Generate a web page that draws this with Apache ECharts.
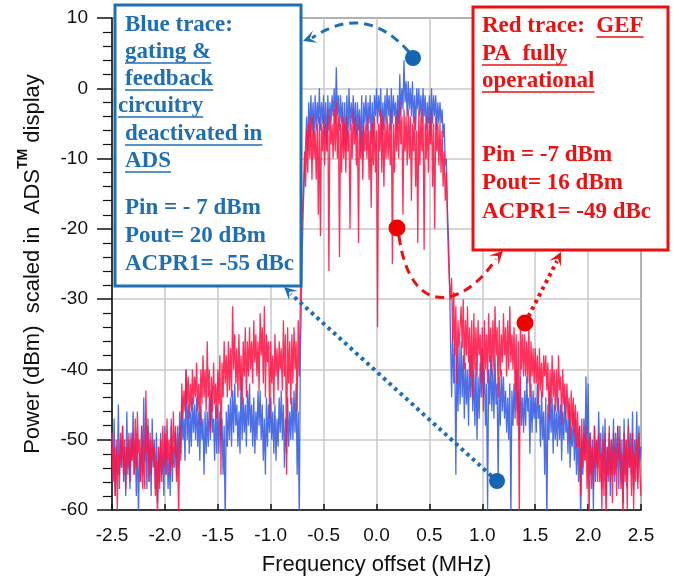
<!DOCTYPE html>
<html>
<head>
<meta charset="utf-8">
<script src="https://cdn.jsdelivr.net/npm/echarts@6/dist/echarts.min.js"></script>
<style>
html,body{margin:0;padding:0;background:#fff;}
#chart{width:679px;height:584px;}
</style>
</head>
<body>
<div id="chart"></div>
<script>
// ---- data ----
const FREQ_START = -2.5;   // MHz, first sample
const FREQ_STEP = 0.01;    // MHz between samples

// Blue trace: gating & feedback circuitry deactivated (dBm), one row per 0.1 MHz
const BLUE_TRACE = [
  -49,-56,-47,-58,-51,-55,-45,-57,-50,-54,   // -2.50
  -48,-56,-51,-58,-46,-55,-50,-57,-49,-53,   // -2.40
  -46,-55,-50,-58,-49,-61,-52,-56,-48,-55,   // -2.30
  -44,-53,-48,-57,-47,-56,-50,-58,-47,-54,   // -2.20
  -50,-57,-49,-59,-51,-56,-49,-55,-52,-58,   // -2.10
  -48,-55,-50,-57,-52,-58,-47,-56,-51,-54,   // -2.00
  -49,-55,-48,-54,-46,-52,-44,-50,-47,-53,   // -1.90
  -40,-50,-45,-52,-46,-51,-44,-49,-45,-50,   // -1.80
  -44,-51,-46,-53,-45,-50,-47,-55,-46,-52,   // -1.70
  -46,-51,-44,-50,-43,-49,-47,-53,-45,-52,   // -1.60
  -45,-52,-46,-50,-47,-55,-48,-62,-46,-51,   // -1.50
  -45,-50,-44,-51,-43,-49,-42,-48,-45,-51,   // -1.40
  -46,-52,-41,-50,-44,-49,-45,-51,-43,-48,   // -1.30
  -42,-49,-45,-51,-44,-52,-46,-50,-43,-48,   // -1.20
  -43,-50,-45,-53,-47,-55,-44,-51,-45,-49,   // -1.10
  -44,-50,-46,-52,-45,-53,-47,-51,-44,-49,   // -1.00
  -43,-50,-45,-54,-47,-52,-44,-51,-46,-50,   // -0.90
  -44,-50,-43,-49,-42,-55,-46,-62,-38,-30,   // -0.80
  -22,-16,-12,-8,-4,-9,-2,-7,-1,-6,          // -0.70
  -2,-7,-1,-6,-2,-5,0,-6,-2,-5,              // -0.60
  -1,-7,-2,-8,-1,-6,-2,-5,-1,-4,             // -0.50
  0,-5,3,-4,-1,-6,-1,-5,-2,-8,               // -0.40
  -2,-9,-1,-7,0,-6,-2,-5,-1,-6,              // -0.30
  -2,-7,-2,-6,-3,-9,-1,-10,-2,-5,            // -0.20
  -1,-6,-2,-5,-1,-8,-2,-7,-1,-4,             // -0.10
  0,-5,-1,-4,0,-7,-2,-6,-1,-5,               // 0.00
  0,-4,-1,-6,0,-5,-1,-4,-2,-6,               // 0.10
  -1,-5,2,-4,0,-3,4,-2,1,-4,                 // 0.20
  1,-3,0,-4,1,-5,-1,-6,0,-3,                 // 0.30
  0,-4,-1,-5,0,-4,-1,-6,-2,-5,               // 0.40
  -1,-7,0,-5,-1,-4,-1,-6,-2,-5,              // 0.50
  -2,-5,-3,-7,-5,-11,-10,-17,-21,-27,        // 0.60
  -36,-44,-34,-42,-37,-55,-38,-46,-37,-45,   // 0.70
  -36,-44,-38,-47,-39,-45,-40,-48,-38,-44,   // 0.80
  -38,-46,-40,-48,-39,-50,-41,-47,-39,-44,   // 0.90
  -37,-44,-40,-48,-42,-60,-40,-45,-38,-46,   // 1.00
  -40,-47,-38,-45,-42,-56,-41,-48,-40,-46,   // 1.10
  -41,-47,-43,-49,-44,-50,-42,-61,-43,-48,   // 1.20
  -42,-47,-40,-46,-43,-50,-41,-48,-44,-49,   // 1.30
  -43,-48,-41,-46,-44,-52,-42,-49,-43,-47,   // 1.40
  -44,-49,-42,-47,-45,-51,-43,-50,-46,-55,   // 1.50
  -44,-62,-45,-50,-43,-49,-44,-52,-45,-50,   // 1.60
  -46,-51,-44,-50,-45,-53,-46,-50,-44,-49,   // 1.70
  -47,-52,-45,-54,-48,-51,-46,-53,-47,-55,   // 1.80
  -49,-56,-48,-62,-50,-55,-47,-53,-41,-52,   // 1.90
  -42,-55,-49,-57,-50,-60,-48,-56,-50,-54,   // 2.00
  -46,-53,-49,-57,-48,-55,-47,-58,-51,-56,   // 2.10
  -49,-58,-50,-55,-47,-56,-49,-54,-48,-57,   // 2.20
  -48,-56,-50,-59,-47,-55,-50,-57,-47,-54,   // 2.30
  -49,-55,-46,-57,-50,-54,-46,-56,-48,-53,   // 2.40
  -51                                        // 2.50
];

// Red trace: GEF PA fully operational (dBm), one row per 0.1 MHz
const RED_TRACE = [
  -49,-56,-51,-58,-50,-60,-52,-55,-49,-54,   // -2.50
  -48,-55,-50,-57,-51,-54,-49,-56,-50,-53,   // -2.40
  -49,-55,-47,-54,-46,-52,-50,-56,-48,-57,   // -2.30
  -50,-57,-43,-52,-48,-56,-49,-55,-50,-53,   // -2.20
  -51,-58,-53,-62,-51,-57,-50,-56,-48,-54,   // -2.10
  -49,-55,-47,-53,-50,-55,-48,-54,-46,-52,   // -2.00
  -48,-56,-50,-62,-48,-53,-42,-47,-43,-46,   // -1.90
  -40,-45,-41,-47,-42,-46,-40,-45,-41,-44,   // -1.80
  -39,-46,-42,-48,-40,-45,-38,-44,-40,-46,   // -1.70
  -36,-44,-40,-49,-41,-46,-39,-45,-42,-47,   // -1.60
  -40,-45,-38,-55,-39,-44,-36,-42,-38,-44,   // -1.50
  -36,-43,-37,-44,-31,-40,-35,-42,-37,-44,   // -1.40
  -35,-43,-38,-45,-36,-41,-34,-44,-36,-41,   // -1.30
  -34,-40,-36,-42,-33,-39,-35,-41,-36,-43,   // -1.20
  -32,-38,-34,-42,-31,-44,-35,-39,-36,-47,   // -1.10
  -36,-42,-38,-45,-35,-41,-37,-43,-36,-40,   // -1.00
  -37,-43,-33,-41,-35,-55,-34,-42,-36,-45,   // -0.90
  -35,-42,-34,-40,-36,-46,-33,-41,-30,-22,   // -0.80
  -17,-14,-9,-14,-6,-12,-5,-10,-4,-13,       // -0.70
  -4,-10,-6,-13,-5,-18,-4,-21,-5,-9,         // -0.60
  -4,-11,-5,-9,-3,-26,-4,-8,-5,-10,          // -0.50
  -3,-9,-2,-10,-4,-24,-5,-12,-4,-10,         // -0.40
  -5,-12,-4,-9,-6,-20,-5,-10,-3,-8,          // -0.30
  -4,-11,-5,-22,-4,-10,-6,-13,-5,-9,         // -0.20
  -5,-10,-4,-13,-6,-17,-5,-11,-4,-12,        // -0.10
  -6,-34,-5,-9,-3,-12,-4,-14,-5,-10,         // 0.00
  -4,-10,-5,-11,-3,-25,-5,-12,-4,-9,         // 0.10
  -3,-10,-2,-8,-4,-18,-3,-9,-4,-11,          // 0.20
  -3,-10,-4,-16,-5,-9,-4,-14,-6,-22,         // 0.30
  -3,-11,-4,-9,-3,-23,-5,-10,-4,-12,         // 0.40
  -4,-8,-3,-14,-5,-20,-4,-9,-5,-11,          // 0.50
  -5,-12,-6,-14,-9,-16,-12,-19,-24,-28,      // 0.60
  -30,-27,-36,-29,-38,-31,-42,-33,-37,-34,   // 0.70
  -31,-37,-30,-40,-33,-38,-31,-39,-34,-41,   // 0.80
  -33,-44,-32,-40,-34,-41,-33,-38,-35,-42,   // 0.90
  -34,-46,-33,-40,-35,-42,-32,-39,-34,-41,   // 1.00
  -33,-40,-31,-38,-34,-44,-33,-41,-35,-39,   // 1.10
  -32,-38,-34,-41,-33,-40,-31,-39,-35,-40,   // 1.20
  -34,-43,-35,-48,-36,-62,-33,-40,-35,-41,   // 1.30
  -35,-41,-36,-42,-34,-44,-36,-41,-37,-42,   // 1.40
  -37,-42,-38,-45,-37,-43,-39,-44,-38,-41,   // 1.50
  -38,-43,-39,-47,-40,-45,-38,-44,-40,-46,   // 1.60
  -40,-46,-38,-43,-41,-48,-40,-45,-42,-47,   // 1.70
  -42,-47,-44,-50,-43,-48,-44,-49,-45,-51,   // 1.80
  -46,-51,-48,-58,-47,-54,-49,-53,-48,-57,   // 1.90
  -50,-61,-49,-55,-51,-57,-48,-54,-50,-56,   // 2.00
  -49,-56,-52,-60,-50,-58,-49,-62,-51,-55,   // 2.10
  -48,-56,-50,-59,-49,-55,-51,-58,-48,-53,   // 2.20
  -50,-57,-52,-62,-49,-56,-50,-60,-48,-54,   // 2.30
  -51,-58,-49,-60,-52,-56,-50,-57,-49,-55,   // 2.40
  -58                                        // 2.50
];

const X_AXIS = { min: -2.5, max: 2.5, step: 0.5, name: 'Frequency offset (MHz)' };
const Y_AXIS = { min: -60, max: 10, step: 10 };

// ---- build ----
function toPairs(arr) {
  return arr.map((v, i) => [+(FREQ_START + i * FREQ_STEP).toFixed(3), v]);
}

const chart = echarts.init(document.getElementById('chart'), null, { renderer: 'canvas' });

const BLUE = '#1f6fb5';
const RED = '#ee1010';
const SERIF = '"Liberation Serif", "Times New Roman", serif';
const FONT = 'bold 23px ' + SERIF;

const mctx = document.createElement('canvas').getContext('2d');
mctx.font = FONT;
function tw(s) { return mctx.measureText(s).width; }

const G = [];
function addText(str, x, base, color) {
  G.push({ type: 'text', z: 110, x: x, y: base - 8,
    style: { text: str, font: FONT, fill: color, align: 'left', verticalAlign: 'middle' } });
}
function addUnderline(x, base, w, color) {
  G.push({ type: 'line', z: 110, shape: { x1: x, y1: base + 3, x2: x + w, y2: base + 3 },
    style: { stroke: color, lineWidth: 1.6 } });
}
function arrowHead(tx, ty, fx, fy, color) {
  const dx = tx - fx, dy = ty - fy, L = Math.hypot(dx, dy);
  const ux = dx / L, uy = dy / L, nx = -uy, ny = ux;
  const len = 13, wid = 6.5;
  G.push({ type: 'polygon', z: 112, shape: { points: [
    [tx, ty],
    [tx - ux * len + nx * wid, ty - uy * len + ny * wid],
    [tx - ux * len * 0.55, ty - uy * len * 0.55],
    [tx - ux * len - nx * wid, ty - uy * len - ny * wid]
  ] }, style: { fill: color } });
}

// boxes
G.push({ type: 'rect', z: 100, shape: { x: 115, y: 5, width: 186, height: 281 },
  style: { fill: '#fff', stroke: BLUE, lineWidth: 3 } });
G.push({ type: 'rect', z: 100, shape: { x: 473, y: 7, width: 195, height: 243 },
  style: { fill: '#fff', stroke: RED, lineWidth: 3 } });

// blue box text
const blueLines = [
  ['Blue trace:', 125, 33, false],
  ['gating &', 125, 60, true],
  ['feedback', 125, 87, true],
  ['circuitry', 118, 114, true],
  ['deactivated in', 125, 142, true],
  ['ADS', 125, 169, true],
  ['Pin = - 7 dBm', 125, 216, false],
  ['Pout= 20 dBm', 125, 244, false],
  ['ACPR1= -55 dBc', 125, 272, false]
];
blueLines.forEach(l => { addText(l[0], l[1], l[2], BLUE); if (l[3]) addUnderline(l[1], l[2], tw(l[0]), BLUE); });

// red box text
const redPre = 'Red trace:  ';
addText(redPre, 482, 34, RED);
addText('GEF', 482 + tw(redPre), 34, RED);
addUnderline(482 + tw(redPre), 34, tw('GEF'), RED);
const redLines = [
  ['PA  fully', 482, 62, true],
  ['operational', 482, 89, true],
  ['Pin = -7 dBm', 482, 163, false],
  ['Pout= 16 dBm', 482, 191, false],
  ['ACPR1= -49 dBc', 482, 220, false]
];
redLines.forEach(l => { addText(l[0], l[1], l[2], RED); if (l[3]) addUnderline(l[1], l[2], tw(l[0]), RED); });

// blue dashed arc (top)
G.push({ type: 'bezierCurve', z: 105, shape: { x1: 409, y1: 52, cpx1: 365, cpy1: 2, x2: 312, y2: 38 },
  style: { stroke: BLUE, lineWidth: 3, lineDash: [9, 6], fill: null } });
arrowHead(303, 41, 325, 33, BLUE);
// blue dotted line
G.push({ type: 'line', z: 105, shape: { x1: 497, y1: 481, x2: 291, y2: 294 },
  style: { stroke: BLUE, lineWidth: 4, lineDash: [3.5, 4] } });
arrowHead(284, 287, 497, 481, BLUE);
// red dashed curve
G.push({ type: 'bezierCurve', z: 105, shape: { x1: 399, y1: 236, cpx1: 410, cpy1: 318, cpx2: 462, cpy2: 310, x2: 496, y2: 259 },
  style: { stroke: RED, lineWidth: 3, lineDash: [9, 6], fill: null } });
arrowHead(503, 251, 488, 266, RED);
// red dotted line
G.push({ type: 'line', z: 105, shape: { x1: 525, y1: 323, x2: 557, y2: 261 },
  style: { stroke: RED, lineWidth: 4, lineDash: [3.5, 4] } });
arrowHead(561, 252, 525, 323, RED);

// dots
G.push({ type: 'circle', z: 115, shape: { cx: 413, cy: 58, r: 8 }, style: { fill: '#1565b0' } });
G.push({ type: 'circle', z: 115, shape: { cx: 497, cy: 481, r: 8 }, style: { fill: '#1565b0' } });
G.push({ type: 'circle', z: 115, shape: { cx: 397, cy: 228, r: 8.5 }, style: { fill: '#f00000' } });
G.push({ type: 'circle', z: 115, shape: { cx: 525, cy: 323, r: 8.5 }, style: { fill: '#f00000' } });

const SANS = '"Liberation Sans", Arial, Helvetica, sans-serif';

chart.setOption({
  animation: false,
  backgroundColor: '#fff',
  grid: { left: 112, right: 38, top: 18, bottom: 74, show: true, borderColor: '#444', borderWidth: 1.5,
          backgroundColor: 'transparent', containLabel: false, outerBoundsMode: 'none' },
  xAxis: {
    type: 'value', min: X_AXIS.min, max: X_AXIS.max, interval: X_AXIS.step,
    name: X_AXIS.name, nameLocation: 'middle', nameGap: 44,
    nameTextStyle: { fontFamily: SANS, fontSize: 22, color: '#111' },
    axisLine: { show: true, onZero: false, lineStyle: { color: '#111', width: 1.5 } },
    axisTick: { show: true, inside: true, length: 6, lineStyle: { color: '#111', width: 1.5 } },
    axisLabel: { fontFamily: SANS, fontSize: 19, color: '#111', margin: 16,
                 formatter: v => v.toFixed(1), showMinLabel: true, showMaxLabel: true },
    splitLine: { show: true, lineStyle: { color: '#c9c9c9', width: 1.5 } }
  },
  yAxis: {
    type: 'value', min: Y_AXIS.min, max: Y_AXIS.max, interval: Y_AXIS.step,
    name: '{a|Power (dBm)  scaled in  ADS}{tm|TM}{a| display}',
    nameLocation: 'middle', nameGap: 68, nameRotate: 90,
    nameTextStyle: { fontFamily: SANS, color: '#111',
      rich: { a: { fontFamily: SANS, fontSize: 22, color: '#111', lineHeight: 28, verticalAlign: 'bottom' },
              tm: { fontFamily: SANS, fontSize: 14, fontWeight: 'bold', color: '#111', lineHeight: 14, verticalAlign: 'top' } } },
    axisLine: { show: true, onZero: false, lineStyle: { color: '#111', width: 1.5 } },
    axisTick: { show: true, inside: false, length: 15, lineStyle: { color: '#111', width: 1.5 } },
    minorTick: { show: true, splitNumber: 5, length: 9, lineStyle: { color: '#111', width: 1.2 } },
    axisLabel: { fontFamily: SANS, fontSize: 19, color: '#111', margin: 24 },
    splitLine: { show: true, lineStyle: { color: '#c9c9c9', width: 1.5 } },
    minorSplitLine: { show: false }
  },
  series: [
    { name: 'Blue trace', type: 'line', data: toPairs(BLUE_TRACE), showSymbol: false, symbol: 'none',
      clip: true, z: 3, lineStyle: { color: '#3a5fe3', width: 1.3, opacity: 0.9 } },
    { name: 'Red trace', type: 'line', data: toPairs(RED_TRACE), showSymbol: false, symbol: 'none',
      clip: true, z: 4, lineStyle: { color: '#ff1446', width: 1.3, opacity: 0.88 } }
  ],
  graphic: G
});
</script>
</body>
</html>
